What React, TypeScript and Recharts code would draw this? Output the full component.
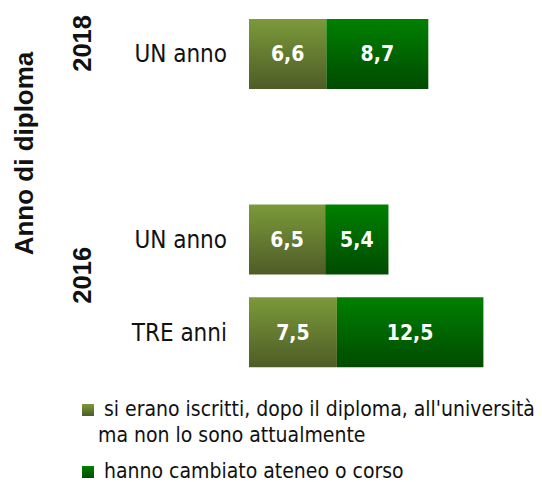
import React from "react";
import { BarChart, Bar, XAxis, YAxis, Legend, LabelList } from "recharts";

const categories = ["UN anno", "", "UN anno", "TRE anni"];
const seriesA = [6.6, null, 6.5, 7.5];
const seriesB = [8.7, null, 5.4, 12.5];
const yearGroups = [
  { year: "2018", from: 0, to: 0 },
  { year: "2016", from: 2, to: 3 },
];
const seriesNames = [
  "si erano iscritti, dopo il diploma, all'università ma non lo sono attualmente",
  "hanno cambiato ateneo o corso",
];
const legendLines = [
  ["si erano iscritti, dopo il diploma, all'università", "ma non lo sono attualmente"],
  ["hanno cambiato ateneo o corso"],
];
const axisTitle = "Anno di diploma";

const data = categories.map((c, i) => ({ idx: i, label: c, a: seriesA[i], b: seriesB[i] }));

const W = 542;
const H = 482;
const LEG_H = 87;
const MARGIN = { top: 8, right: 0, bottom: 103 - LEG_H, left: 0 };
const BAND = (H - 8 - 103) / categories.length;

const TAHOMA = "Tahoma, 'DejaVu Sans Condensed', 'DejaVu Sans', sans-serif";
const ARIALB = "'Liberation Sans', Arial, sans-serif";

const fmt = (v: any) => (v == null ? "" : Number(v).toFixed(1).replace(".", ","));

const CatTick = (props: any) => {
  const { x, y, payload } = props;
  const i = payload.value as number;
  const group = yearGroups.find((g) => g.from === i);
  const els: any[] = [];
  els.push(
    <text key="t" x={x} y={y} dy={8} textAnchor="end" fill="#111"
      style={{ fontFamily: TAHOMA, fontStretch: "condensed", fontSize: 24 }}>
      {categories[i]}
    </text>
  );
  if (group) {
    const cy = y + ((group.to - group.from) * BAND) / 2 - 11;
    const cx = x - 136;
    els.push(
      <text key="g" x={cx} y={cy} textAnchor="middle" fill="#111"
        transform={`rotate(-90, ${cx}, ${cy})`}
        style={{ fontFamily: ARIALB, fontWeight: "bold", fontSize: 25.5 }}>
        {group.year}
      </text>
    );
  }
  return <g>{els}</g>;
};

const AxisTitle = (props: any) => {
  const vb = props.viewBox || {};
  const cx = 33;
  const cy = vb.y + vb.height / 2 - 40;
  return (
    <text x={cx} y={cy} textAnchor="middle" fill="#111"
      transform={`rotate(-90, ${cx}, ${cy})`}
      style={{ fontFamily: ARIALB, fontWeight: "bold", fontSize: 26 }}>
      {axisTitle}
    </text>
  );
};

const LegendContent = (props: any) => {
  const payload = props.payload || [];
  const tops = [404, 466];
  return (
    <svg width={W} height={LEG_H} style={{ display: "block", overflow: "visible" }}>
      {payload.map((p: any, i: number) => {
        const top = tops[i] - 395;
        const lines = legendLines[i];
        return (
          <g key={i}>
            <rect x={82} y={top} width={12} height={12} fill={i === 0 ? "url(#gA)" : "url(#gB)"} />
            {lines.map((ln, j) => (
              <text key={j} x={j === 0 ? 104 : 98} y={top + 12 + j * 26} fill="#111"
                style={{ fontFamily: TAHOMA, fontStretch: "condensed", fontSize: 21 }}>
                {ln}
              </text>
            ))}
          </g>
        );
      })}
    </svg>
  );
};

export default function App() {
  return (
    <div style={{ position: "absolute", left: 0, top: 0, width: W, height: H, background: "#fff" }}>
      <BarChart width={W} height={H} data={data} layout="vertical" margin={MARGIN} barSize={70}>
        <defs>
          <linearGradient id="gA" x1="0" y1="0" x2="0" y2="1">
            <stop offset="0%" stopColor="#7B9A3A" />
            <stop offset="100%" stopColor="#4E5C27" />
          </linearGradient>
          <linearGradient id="gB" x1="0" y1="0" x2="0" y2="1">
            <stop offset="0%" stopColor="#008000" />
            <stop offset="100%" stopColor="#004B00" />
          </linearGradient>
        </defs>
        <XAxis type="number" domain={[0, 25]} hide />
        <YAxis type="category" dataKey="idx" width={249} axisLine={false} tickLine={false}
          tickSize={0} tickMargin={22} interval={0} tick={<CatTick />}
          label={<AxisTitle />} />
        <Legend content={<LegendContent />} verticalAlign="bottom" height={LEG_H}
          wrapperStyle={{ position: "absolute", left: 0, top: 395, width: W, height: LEG_H, bottom: "auto" }} />
        <Bar dataKey="a" name={seriesNames[0]} stackId="s" fill="url(#gA)" isAnimationActive={false}>
          <LabelList dataKey="a" position="center" formatter={fmt} fill="#fff"
            style={{ fontFamily: TAHOMA, fontStretch: "condensed", fontWeight: "bold", fontSize: 21 }} />
        </Bar>
        <Bar dataKey="b" name={seriesNames[1]} stackId="s" fill="url(#gB)" isAnimationActive={false}>
          <LabelList dataKey="b" position="center" formatter={fmt} fill="#fff"
            style={{ fontFamily: TAHOMA, fontStretch: "condensed", fontWeight: "bold", fontSize: 21 }} />
        </Bar>
      </BarChart>
    </div>
  );
}
